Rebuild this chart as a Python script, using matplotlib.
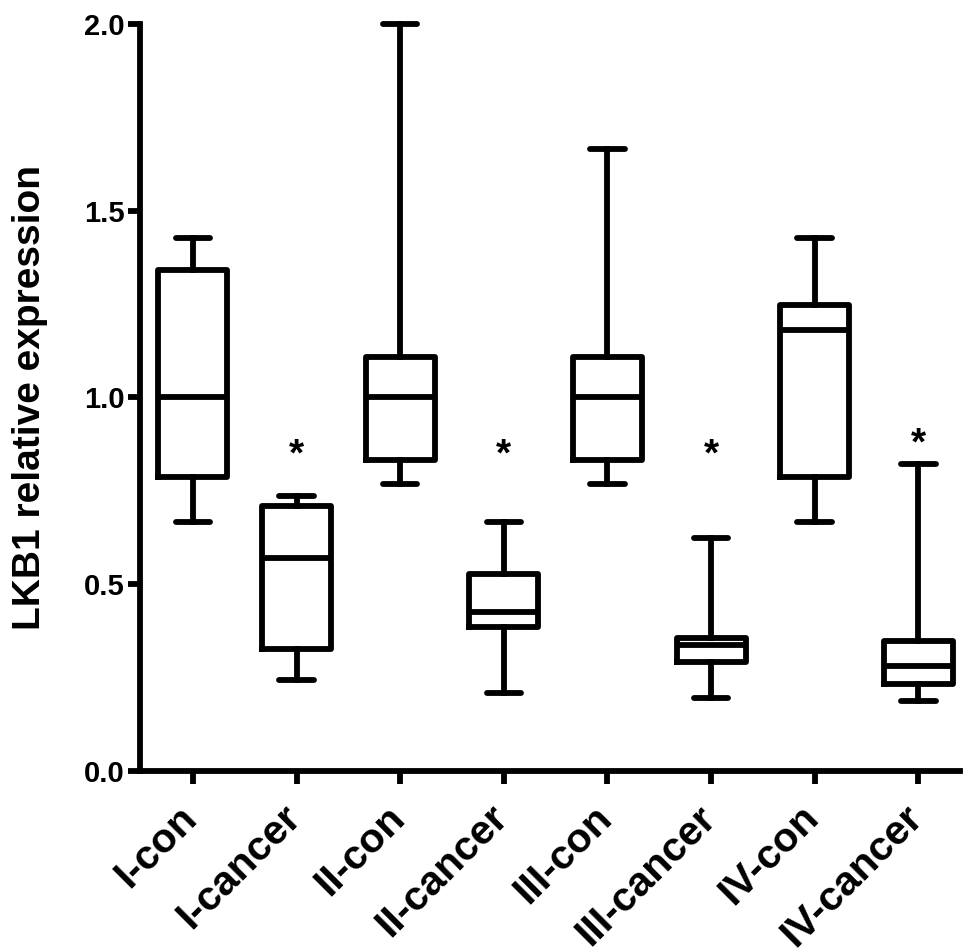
import matplotlib
matplotlib.use("Agg")
import matplotlib.pyplot as plt

plt.rcParams["font.family"] = ["Liberation Sans", "DejaVu Sans"]
plt.rcParams["font.weight"] = "bold"

groups = ["I-con", "I-cancer", "II-con", "II-cancer",
          "III-con", "III-cancer", "IV-con", "IV-cancer"]
whis_low = [0.666, 0.243, 0.769, 0.209, 0.769, 0.195, 0.666, 0.188]
q1 = [0.786, 0.327, 0.832, 0.386, 0.832, 0.291, 0.786, 0.232]
median = [1.0, 0.570, 1.0, 0.427, 1.0, 0.338, 1.180, 0.281]
q3 = [1.340, 0.709, 1.109, 0.527, 1.109, 0.355, 1.248, 0.349]
whis_high = [1.428, 0.737, 2.0, 0.666, 1.666, 0.625, 1.428, 0.823]
# significance marks above the cancer groups
star_y = [None, 0.845, None, 0.845, None, 0.845, None, 0.875]

lw = 4.2

fig = plt.figure(figsize=(9.69, 9.52), dpi=100)
ax = fig.add_axes([0.1445, 0.19, 0.846, 0.785])

stats = []
for i, g in enumerate(groups):
    stats.append(dict(label=g, whislo=whis_low[i], q1=q1[i], med=median[i],
                      q3=q3[i], whishi=whis_high[i], fliers=[]))

positions = list(range(1, 9))
art = ax.bxp(stats, positions=positions, widths=0.667, showfliers=False,
             boxprops=dict(linewidth=lw, color="black"),
             medianprops=dict(linewidth=lw, color="black"),
             whiskerprops=dict(linewidth=lw, color="black"),
             capprops=dict(linewidth=lw, color="black", solid_capstyle="round"))
for key in art:
    for a in art[key]:
        a.set_clip_on(False)

for i, s in enumerate(star_y):
    if s is not None:
        ax.text(positions[i], s, "*", ha="center", va="center", fontsize=28,
                fontweight="bold")

ax.set_xlim(0.49, 8.4)
ax.set_ylim(0, 2.0)
ax.set_yticks([0.0, 0.5, 1.0, 1.5, 2.0])
ax.set_yticklabels(["0.0", "0.5", "1.0", "1.5", "2.0"], fontsize=21,
                   fontweight="bold")
ax.set_xticks(positions)
ax.set_xticklabels([""] * len(groups))
# rotated group names, placed by hand so their ends sit under the ticks
for p, g in zip(positions, groups):
    ax.annotate(g, xy=(p, 0), xycoords=("data", "axes fraction"),
                xytext=(-11, -19.5), textcoords="offset points",
                fontsize=29.5, fontweight="bold", rotation=45,
                ha="right", va="top", rotation_mode="anchor",
                annotation_clip=False)
ax.set_ylabel("LKB1 relative expression", fontsize=28, fontweight="bold",
              labelpad=26)

for side in ["top", "right"]:
    ax.spines[side].set_visible(False)
for side in ["left", "bottom"]:
    ax.spines[side].set_linewidth(lw)
ax.tick_params(axis="both", width=lw, length=9, direction="out")
ax.tick_params(axis="y", pad=2)

fig.savefig("out.png", dpi=100)
